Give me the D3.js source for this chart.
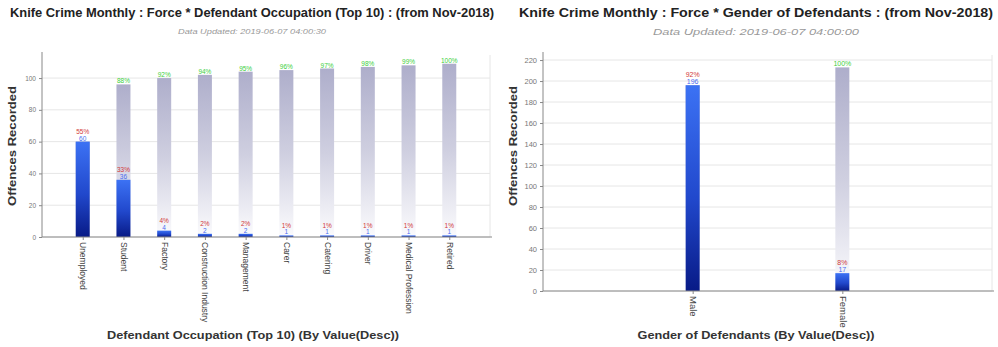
<!DOCTYPE html>
<html>
<head>
<meta charset="utf-8">
<script src="https://cdn.jsdelivr.net/npm/d3@7"></script>
<style>
  html, body { margin: 0; padding: 0; background: #fff; }
  svg { display: block; font-family: "Liberation Sans", Arial, sans-serif; }
</style>
</head>
<body>
<svg id="chart" width="998" height="347"></svg>
<script>
// Defendant occupation (top 10), offences recorded
const occupations = ["Unemployed", "Student", "Factory", "Construction Industry", "Management",
                     "Carer", "Catering", "Driver", "Medical Profession", "Retired"];
const occupationCounts = [60, 36, 4, 2, 2, 1, 1, 1, 1, 1];
const occupationTicks = [0, 20, 40, 60, 80, 100];

// Gender of defendants, offences recorded
const genders = ["Male", "Female"];
const genderCounts = [196, 17];
const genderTicks = [0, 20, 40, 60, 80, 100, 120, 140, 160, 180, 200, 220];

const svg = d3.select("#chart");
const defs = svg.append("defs");

const blue = defs.append("linearGradient").attr("id", "gBlue")
  .attr("x1", 0).attr("y1", 0).attr("x2", 0).attr("y2", 1);
blue.append("stop").attr("offset", "0%").attr("stop-color", "#3c72f4");
blue.append("stop").attr("offset", "55%").attr("stop-color", "#2148cc");
blue.append("stop").attr("offset", "100%").attr("stop-color", "#081a86");

const grey = defs.append("linearGradient").attr("id", "gGrey")
  .attr("x1", 0).attr("y1", 0).attr("x2", 0).attr("y2", 1);
grey.append("stop").attr("offset", "0%").attr("stop-color", "#aeaecb");
grey.append("stop").attr("offset", "50%").attr("stop-color", "#cfcfe0");
grey.append("stop").attr("offset", "100%").attr("stop-color", "#fbfbfd");

function paretoChart(cfg) {
  const g = svg.append("g");
  const total = d3.sum(cfg.values);
  const cum = Array.from(d3.cumsum(cfg.values));

  const x = d3.scalePoint().domain(cfg.categories).range([cfg.x0, cfg.x1]).padding(1);
  const y = d3.scaleLinear().domain([0, cfg.yMax]).range([cfg.y0, cfg.yTop]);

  // titles
  g.append("text").attr("x", cfg.cx).attr("y", cfg.titleY)
    .attr("text-anchor", "middle").attr("font-weight", "bold")
    .attr("font-size", cfg.titleSize).attr("fill", "#222")
    .attr("textLength", cfg.titleLen).attr("lengthAdjust", "spacingAndGlyphs")
    .text(cfg.title);
  g.append("text").attr("x", cfg.cx).attr("y", cfg.subY)
    .attr("text-anchor", "middle").attr("font-style", "italic")
    .attr("font-size", cfg.subSize).attr("fill", "#999")
    .attr("textLength", cfg.subLen).attr("lengthAdjust", "spacingAndGlyphs")
    .text(cfg.subtitle);

  // gridlines
  g.append("g").selectAll("line").data(cfg.ticks).join("line")
    .attr("x1", cfg.x0).attr("x2", cfg.x1)
    .attr("y1", d => y(d)).attr("y2", d => y(d))
    .attr("stroke", "#e6e6e6").attr("stroke-width", 1);
  g.append("line").attr("x1", cfg.x1).attr("x2", cfg.x1)
    .attr("y1", cfg.yTop).attr("y2", cfg.y0)
    .attr("stroke", "#e6e6e6");

  // cumulative bars (behind)
  g.append("g").selectAll("rect").data(cfg.categories).join("rect")
    .attr("x", d => x(d) - cfg.barW / 2).attr("width", cfg.barW)
    .attr("y", (d, i) => y(cum[i])).attr("height", (d, i) => y(0) - y(cum[i]))
    .attr("fill", "url(#gGrey)");

  // value bars
  g.append("g").selectAll("rect").data(cfg.categories).join("rect")
    .attr("x", d => x(d) - cfg.barW / 2).attr("width", cfg.barW)
    .attr("y", (d, i) => y(cfg.values[i])).attr("height", (d, i) => y(0) - y(cfg.values[i]))
    .attr("fill", "url(#gBlue)");

  // labels
  const lab = g.append("g").attr("text-anchor", "middle").attr("font-size", cfg.labSize);
  cfg.categories.forEach((c, i) => {
    const v = cfg.values[i];
    lab.append("text").attr("x", x(c)).attr("y", y(v) - 1)
      .attr("fill", "#4a6cf0").text(v);
    lab.append("text").attr("x", x(c)).attr("y", y(v) - 1 - cfg.labSize)
      .attr("fill", "#d23a3a").text(Math.round(v / total * 100) + "%");
    if (i > 0) {
      lab.append("text").attr("x", x(c)).attr("y", y(cum[i]) - 1)
        .attr("fill", "#3ccf3c").text(Math.round(cum[i] / total * 100) + "%");
    }
  });

  // axes
  const yAxis = d3.axisLeft(y).tickValues(cfg.ticks).tickSize(3).tickPadding(3);
  const ya = g.append("g").attr("transform", `translate(${cfg.x0},0)`).call(yAxis);
  ya.select(".domain").attr("d", `M0,${cfg.yTop - 3}V${cfg.y0}`);
  ya.selectAll("text").attr("font-size", cfg.tickSize).attr("fill", "#777")
    .attr("font-family", "Liberation Sans, Arial, sans-serif");

  const xAxis = d3.axisBottom(x).tickSize(3).tickPadding(3);
  const xa = g.append("g").attr("transform", `translate(0,${cfg.y0})`).call(xAxis);
  xa.select(".domain").attr("d", `M${cfg.x0},0H${cfg.x1 + 2}`);
  xa.selectAll("text")
    .attr("font-size", cfg.catSize).attr("fill", "#444")
    .attr("font-family", "Liberation Sans, Arial, sans-serif")
    .attr("text-anchor", "start").attr("dy", "0.35em")
    .attr("transform", "rotate(90)").attr("x", 5).attr("y", 0);
  g.selectAll(".domain, .tick line").attr("stroke", "#888");

  // axis titles
  g.append("text").attr("x", cfg.cx2).attr("y", cfg.xTitleY)
    .attr("text-anchor", "middle").attr("font-weight", "bold")
    .attr("font-size", cfg.axTitleSize).attr("fill", "#333")
    .attr("textLength", cfg.xTitleLen).attr("lengthAdjust", "spacingAndGlyphs")
    .text(cfg.xTitle);
  g.append("text")
    .attr("transform", `translate(${cfg.yTitleX},${cfg.yTitleY}) rotate(-90)`)
    .attr("text-anchor", "middle").attr("font-weight", "bold")
    .attr("font-size", cfg.yTitleSize).attr("fill", "#333")
    .attr("textLength", 120).attr("lengthAdjust", "spacingAndGlyphs")
    .text("Offences Recorded");
}

paretoChart({
  categories: occupations, values: occupationCounts, ticks: occupationTicks,
  x0: 42, x1: 490, y0: 237, yTop: 55, yMax: 114.5, barW: 14,
  title: "Knife Crime Monthly : Force * Defendant Occupation (Top 10) : (from Nov-2018)",
  subtitle: "Data Updated: 2019-06-07 04:00:30",
  cx: 252, titleY: 17, titleSize: 12.5, titleLen: 484, subY: 34, subSize: 8, subLen: 148,
  labSize: 6.5, tickSize: 6.5, catSize: 8.5,
  xTitle: "Defendant Occupation (Top 10) (By Value(Desc))", cx2: 253, xTitleY: 339,
  xTitleLen: 292, axTitleSize: 11, yTitleX: 16, yTitleY: 146, yTitleSize: 11.5
});

paretoChart({
  categories: genders, values: genderCounts, ticks: genderTicks,
  x0: 543, x1: 992, y0: 291, yTop: 55, yMax: 224.8, barW: 14,
  title: "Knife Crime Monthly : Force * Gender of Defendants : (from Nov-2018)",
  subtitle: "Data Updated: 2019-06-07 04:00:00",
  cx: 756, titleY: 17, titleSize: 13.5, titleLen: 474, subY: 35, subSize: 8.5, subLen: 206,
  labSize: 7, tickSize: 7.5, catSize: 9.5,
  xTitle: "Gender of Defendants (By Value(Desc))", cx2: 756, xTitleY: 339,
  xTitleLen: 237, axTitleSize: 11, yTitleX: 517, yTitleY: 146, yTitleSize: 11.5
});
</script>
</body>
</html>
